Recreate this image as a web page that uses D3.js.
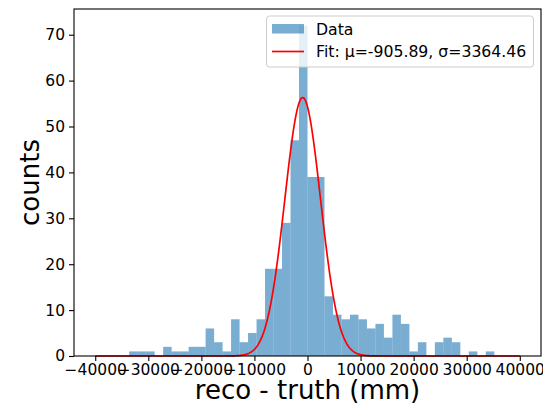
<!DOCTYPE html>
<html>
<head>
<meta charset="utf-8">
<script src="https://cdn.jsdelivr.net/npm/d3@7"></script>
<style>
  html, body { margin: 0; padding: 0; background: #fff; }
  svg { display: block; font-family: "DejaVu Sans", sans-serif; }
</style>
</head>
<body>
<svg id="chart" width="543" height="405"></svg>
<script>
// Histogram of reco - truth residuals: 50 bins of 1600 mm over [-40000, 40000]
const binStart = -40000;
const binWidth = 1600;
const counts = [
  0, 0, 0, 0, 1, 1, 1, 0, 2, 1,
  1, 2, 2, 6, 3, 1, 8, 3, 5, 8,
  19, 19, 29, 47, 72, 39, 39, 13, 9, 8,
  9, 8, 6, 7, 4, 9, 7, 1, 3, 0,
  3, 4, 3, 0, 1, 0, 1, 0, 0, 0
];

// Gaussian fit parameters
const fitMu = -905.89;
const fitSigma = 3364.46;
const fitAmp = 56.3;
const fitRange = [-40000, 40000];

const xTicks = [-40000, -30000, -20000, -10000, 0, 10000, 20000, 30000, 40000];
const yTicks = [0, 10, 20, 30, 40, 50, 60, 70];

const legendLabels = ["Data", "Fit: \u03bc=" + fitMu.toFixed(2) + ", \u03c3=" + fitSigma.toFixed(2)];

const svg = d3.select("#chart");
const margin = { left: 74, right: 541, top: 9, bottom: 356 };

const x = d3.scaleLinear().domain([-44000, 44000]).range([margin.left, margin.right]);
const yMax = d3.max(counts) * 1.05;
const y = d3.scaleLinear().domain([0, yMax]).range([margin.bottom, margin.top]);

const bins = counts.map((c, i) => ({ x0: binStart + i * binWidth, x1: binStart + (i + 1) * binWidth, n: c }));

// bars
svg.append("g")
  .selectAll("rect")
  .data(bins.filter(d => d.n > 0))
  .join("rect")
  .attr("x", d => x(d.x0))
  .attr("width", d => x(d.x1) - x(d.x0))
  .attr("y", d => y(d.n))
  .attr("height", d => y(0) - y(d.n))
  .attr("fill", "#1f77b4")
  .attr("fill-opacity", 0.6);

// gaussian fit curve
const gauss = v => fitAmp * Math.exp(-((v - fitMu) ** 2) / (2 * fitSigma * fitSigma));
const curveX = d3.range(0, 1001).map(i => fitRange[0] + (fitRange[1] - fitRange[0]) * i / 1000);
svg.append("path")
  .datum(curveX)
  .attr("fill", "none")
  .attr("stroke", "#ff0000")
  .attr("stroke-width", 1.7)
  .attr("d", d3.line().x(v => x(v)).y(v => y(gauss(v))));

// axes
const fmt = d3.format("d");
const xAxis = svg.append("g")
  .attr("transform", `translate(0,${margin.bottom})`)
  .call(d3.axisBottom(x).tickValues(xTicks).tickFormat(v => fmt(v).replace("-", "\u2212")).tickSize(5).tickPadding(3).tickSizeOuter(0));
const yAxis = svg.append("g")
  .attr("transform", `translate(${margin.left},0)`)
  .call(d3.axisLeft(y).tickValues(yTicks).tickFormat(fmt).tickSize(5).tickPadding(4).tickSizeOuter(0));
[xAxis, yAxis].forEach(g => {
  g.select(".domain").remove();
  g.selectAll("line").attr("stroke", "#000").attr("stroke-width", 1.1);
  g.selectAll("text").attr("fill", "#000").style("font-size", "15.5px").style("font-family", "DejaVu Sans");
});

// frame
svg.append("rect")
  .attr("x", margin.left).attr("y", margin.top)
  .attr("width", margin.right - margin.left)
  .attr("height", margin.bottom - margin.top)
  .attr("fill", "none").attr("stroke", "#000").attr("stroke-width", 1.1);

// axis labels
svg.append("text")
  .attr("x", (margin.left + margin.right) / 2).attr("y", 399)
  .attr("text-anchor", "middle").style("font-size", "26px")
  .text("reco - truth (mm)");
svg.append("text")
  .attr("transform", `translate(39,${(margin.top + margin.bottom) / 2}) rotate(-90)`)
  .attr("text-anchor", "middle").style("font-size", "26px")
  .text("counts");

// legend
const lg = svg.append("g");
lg.append("rect")
  .attr("x", 266.5).attr("y", 16).attr("width", 267).attr("height", 51)
  .attr("rx", 3).attr("fill", "#fff").attr("fill-opacity", 0.8)
  .attr("stroke", "#cccccc").attr("stroke-width", 1);
lg.append("rect")
  .attr("x", 272).attr("y", 24).attr("width", 32).attr("height", 9.5)
  .attr("fill", "#1f77b4").attr("fill-opacity", 0.6);
lg.append("line")
  .attr("x1", 272).attr("x2", 304).attr("y1", 51.5).attr("y2", 51.5)
  .attr("stroke", "#ff0000").attr("stroke-width", 1.7);
lg.selectAll("text.lbl")
  .data(legendLabels)
  .join("text")
  .attr("class", "lbl")
  .attr("x", 316).attr("y", (d, i) => 35 + i * 22)
  .style("font-size", "15.7px")
  .text(d => d);
</script>
</body>
</html>
